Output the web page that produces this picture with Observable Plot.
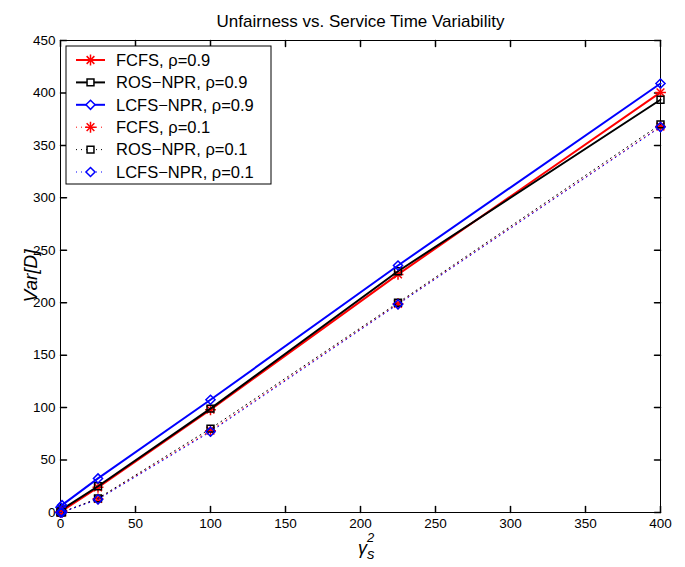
<!DOCTYPE html>
<html><head><meta charset="utf-8">
<script src="https://cdn.jsdelivr.net/npm/d3@7"></script>
<script src="https://cdn.jsdelivr.net/npm/@observablehq/plot@0.6"></script>
<style>
body{margin:0;background:#fff}
svg{font-family:"Liberation Sans",Arial,Helvetica,sans-serif}
</style>
</head><body><div id="chart"></div>
<script>
const titleText = "Unfairness vs. Service Time Variability";
const gamma2 = [0, 1, 25, 100, 225, 400];
const fcfs09 = [0.5, 1.5, 24, 98, 227, 400.5];
const ros09  = [1.5, 3, 25, 99, 230, 393.5];
const lcfs09 = [5, 7, 32.5, 107.5, 235.5, 409];
const fcfs01 = [0, 0.2, 13, 78, 199, 368];
const ros01  = [0, 0.3, 13.5, 80, 200, 370];
const lcfs01 = [0, 0.2, 12.5, 77, 198.5, 367.5];
const seriesNames = ["FCFS, ρ=0.9", "ROS−NPR, ρ=0.9", "LCFS−NPR, ρ=0.9", "FCFS, ρ=0.1", "ROS−NPR, ρ=0.1", "LCFS−NPR, ρ=0.1"];
const seriesValues = [fcfs09, ros09, lcfs09, fcfs01, ros01, lcfs01];
const xTicks = [0, 50, 100, 150, 200, 250, 300, 350, 400];
const yTicks = [0, 50, 100, 150, 200, 250, 300, 350, 400, 450];

const colors = ["#ff0000", "#000000", "#0000ff", "#ff0000", "#000000", "#0000ff"];
const markers = ["asterisk", "square", "diamond", "asterisk", "square", "diamond"];
const dotted = [false, false, false, true, true, true];

const W = 685, H = 567;
const mL = 60, mR = 25, mT = 40, mB = 55;

const tickShape = {draw(c, l) { c.moveTo(0, 0); c.lineTo(0, -l); }};

const R = {square: 3.9, diamond: 4.1, plus: 3.6, times: 3.6};

function markMarks(data, m, color) {
  const base = {x: "x", y: "y", stroke: color, strokeWidth: 1.5, fill: "none"};
  if (m === "asterisk") return [
    Plot.dot(data, {...base, symbol: "plus", r: R.plus}),
    Plot.dot(data, {...base, symbol: "times", r: R.times})
  ];
  if (m === "square") return [Plot.dot(data, {...base, symbol: "square", r: R.square})];
  return [Plot.dot(data, {...base, symbol: "diamond2", r: R.diamond})];
}

const marks = [];
seriesValues.forEach((vals, i) => {
  const data = gamma2.map((x, j) => ({x, y: vals[j]}));
  marks.push(Plot.line(data, {
    x: "x", y: "y", stroke: colors[i],
    strokeWidth: dotted[i] ? 1 : 2,
    strokeDasharray: dotted[i] ? "1,4" : null
  }));
  marks.push(...markMarks(data, markers[i], colors[i]));
});

const chart = Plot.plot({
  width: W, height: H,
  marginLeft: mL, marginRight: mR, marginTop: mT, marginBottom: mB,
  style: {fontFamily: '"Liberation Sans",Arial,Helvetica,sans-serif', background: "#fff"},
  x: {domain: [0, 400]},
  y: {domain: [0, 450]},
  marks: [
    Plot.frame({stroke: "black", strokeWidth: 1}),
    Plot.axisX({ticks: xTicks, tickSize: 0, tickPadding: 6, fontSize: 13.5, label: null, tickFormat: d => String(d)}),
    Plot.axisY({ticks: yTicks, tickSize: 0, tickPadding: 5, fontSize: 13.5, label: null, tickFormat: d => String(d)}),
    Plot.vector(xTicks, {x: d => d, frameAnchor: "bottom", length: 6, rotate: 0, anchor: "start", shape: tickShape, stroke: "black"}),
    Plot.vector(xTicks, {x: d => d, frameAnchor: "top", length: 6, rotate: 180, anchor: "start", shape: tickShape, stroke: "black"}),
    Plot.vector(yTicks, {y: d => d, frameAnchor: "left", length: 6, rotate: 90, anchor: "start", shape: tickShape, stroke: "black"}),
    Plot.vector(yTicks, {y: d => d, frameAnchor: "right", length: 6, rotate: 270, anchor: "start", shape: tickShape, stroke: "black"}),
    ...marks,
    Plot.text([titleText], {frameAnchor: "top", dy: -26, fontSize: 17, fill: "black"})
  ]
});
document.getElementById("chart").appendChild(chart);

const svg = d3.select(chart);
// axis labels
svg.append("text")
  .attr("transform", "translate(37,276) rotate(-90)")
  .attr("text-anchor", "middle")
  .attr("font-size", 19).attr("font-style", "italic").attr("fill", "black")
  .text("Var[D]");
const xl = svg.append("g").attr("fill", "black").attr("font-style", "italic").attr("text-anchor", "start");
xl.append("text").attr("x", 358).attr("y", 554).attr("font-size", 18).text("γ");
xl.append("text").attr("x", 367).attr("y", 542).attr("font-size", 13).text("2");
xl.append("text").attr("x", 367).attr("y", 559).attr("font-size", 15).text("s");

// legend
const lg = svg.append("g").attr("text-anchor", "start");
const lx = 66, ly = 46, lw = 205, lh = 138, rowY0 = 60, rowStep = 22.4;
lg.append("rect").attr("x", lx).attr("y", ly).attr("width", lw).attr("height", lh)
  .attr("fill", "white").attr("stroke", "black");
const symArea = r => Math.PI * r * r;
seriesNames.forEach((name, i) => {
  const y = rowY0 + i * rowStep;
  lg.append("line").attr("x1", 76).attr("x2", 105).attr("y1", y).attr("y2", y)
    .attr("stroke", colors[i]).attr("stroke-width", dotted[i] ? 1 : 2)
    .attr("stroke-dasharray", dotted[i] ? "1,4" : null);
  const g = lg.append("g").attr("transform", `translate(90.5,${y})`)
    .attr("fill", "none").attr("stroke", colors[i]).attr("stroke-width", 1.5);
  if (markers[i] === "asterisk") {
    g.append("path").attr("d", d3.symbol(d3.symbolPlus, symArea(R.plus))());
    g.append("path").attr("d", d3.symbol(d3.symbolTimes, symArea(R.times))());
  } else if (markers[i] === "square") {
    g.append("path").attr("d", d3.symbol(d3.symbolSquare, symArea(R.square))()).attr("fill", "white");
  } else {
    g.append("path").attr("d", d3.symbol(d3.symbolDiamond2, symArea(R.diamond))()).attr("fill", "white");
  }
  lg.append("text").attr("x", 116).attr("y", y).attr("dy", "0.35em")
    .attr("font-size", 16.5).attr("fill", "black").text(name);
});
</script>
</body></html>
